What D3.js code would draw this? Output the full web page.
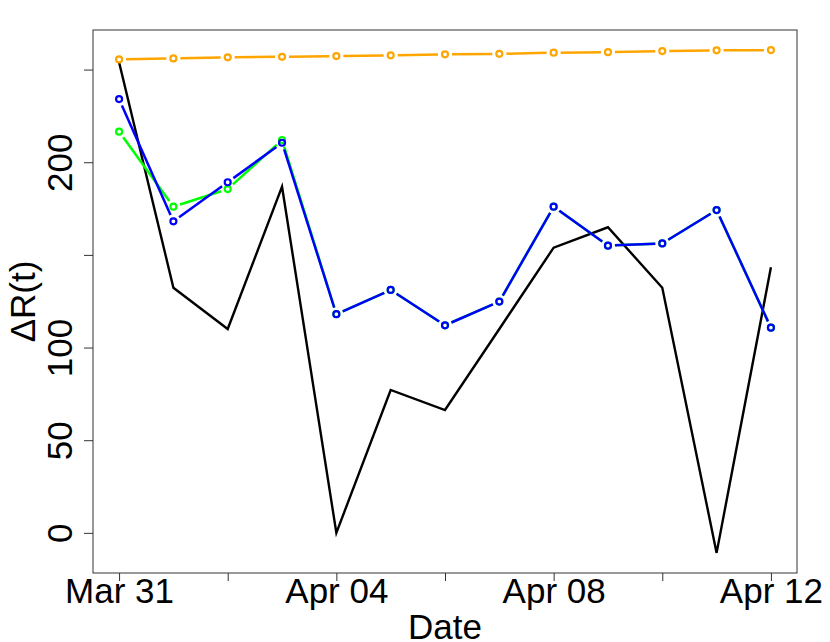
<!DOCTYPE html>
<html>
<head>
<meta charset="utf-8">
<script src="https://cdn.jsdelivr.net/npm/d3@7"></script>
<style>
  html, body { margin: 0; padding: 0; background: #fff; }
  svg { display: block; font-family: "Liberation Sans", Arial, Helvetica, sans-serif; }
</style>
</head>
<body>
<div id="chart"></div>
<script>
(function () {
  'use strict';

  // ---- data ----
  const DATES = [
    '2020-03-31', '2020-04-01', '2020-04-02', '2020-04-03', '2020-04-04',
    '2020-04-05', '2020-04-06', '2020-04-07', '2020-04-08', '2020-04-09',
    '2020-04-10', '2020-04-11', '2020-04-12'
  ];
  const OBSERVED = [254, 132.3, 110, 186.8, 0, 77.1, 66.3, 110, 153.9, 164.9, 132.3, -10.8, 143.3];
  const ORANGE = [255.5, 256.0, 256.6, 256.9, 257.3, 257.7, 258.2, 258.5, 259.1, 259.4, 260.0, 260.4, 260.5];
  const GREEN = [216.5, 176.0, 185.5, 212.0, 118.0, 131.1, 112.0, 124.8, 176.0, 155.0, 156.2, 174.2, 110.7];
  const BLUE = [234.1, 168.1, 189.2, 210.5, 118.0, 131.1, 112.0, 124.8, 176.0, 155.0, 156.2, 174.2, 110.7];
  const Y_TICKS = [0, 50, 100, 150, 200, 250];
  const Y_LABELS = [0, 50, 100, 200];
  const X_TICKS = ['2020-03-31', '2020-04-02', '2020-04-04', '2020-04-06', '2020-04-08', '2020-04-10', '2020-04-12'];
  const X_LABELS = ['2020-03-31', '2020-04-04', '2020-04-08', '2020-04-12'];

  const width = 830, height = 642;
  const box = { left: 93, right: 797, top: 30, bottom: 573 };

  const parse = d3.timeParse('%Y-%m-%d');
  const dates = DATES.map(parse);

  // R style 4% padding
  const xExt = d3.extent(dates);
  const xPad = (xExt[1] - xExt[0]) * 0.04;
  const x = d3.scaleTime()
    .domain([new Date(+xExt[0] - xPad), new Date(+xExt[1] + xPad)])
    .range([box.left, box.right]);

  const allY = OBSERVED.concat(ORANGE, GREEN, BLUE);
  const yExt = d3.extent(allY);
  const yPad = (yExt[1] - yExt[0]) * 0.04;
  const y = d3.scaleLinear()
    .domain([yExt[0] - yPad, yExt[1] + yPad])
    .range([box.bottom, box.top]);

  const svg = d3.select('#chart').append('svg')
    .attr('width', width)
    .attr('height', height);

  svg.append('rect').attr('width', width).attr('height', height).attr('fill', '#fff');

  // Axes
  const fmt = d3.timeFormat('%b %d');
  const key = d3.timeFormat('%Y-%m-%d');

  const xAxis = svg.append('g')
    .attr('transform', `translate(0,${box.bottom})`)
    .call(d3.axisBottom(x)
      .tickValues(X_TICKS.map(parse))
      .tickSize(8)
      .tickFormat(d => X_LABELS.includes(key(d)) ? fmt(d) : ''));
  xAxis.select('.domain').remove();
  xAxis.selectAll('.tick line').attr('stroke', '#333');
  xAxis.selectAll('.tick text')
    .attr('font-size', 35)
    .attr('fill', '#000')
    .attr('dy', null)
    .attr('y', 30);

  const yAxis = svg.append('g')
    .attr('transform', `translate(${box.left},0)`)
    .call(d3.axisLeft(y)
      .tickValues(Y_TICKS)
      .tickSize(9)
      .tickFormat(d => Y_LABELS.includes(d) ? d : ''));
  yAxis.select('.domain').remove();
  yAxis.selectAll('.tick line').attr('stroke', '#333');
  yAxis.selectAll('.tick text')
    .attr('font-size', 35)
    .attr('fill', '#000')
    .attr('x', null)
    .attr('dy', null)
    .attr('text-anchor', 'middle')
    .attr('transform', 'translate(-21,0) rotate(-90)');

  // Box
  svg.append('rect')
    .attr('x', box.left).attr('y', box.top)
    .attr('width', box.right - box.left).attr('height', box.bottom - box.top)
    .attr('fill', 'none').attr('stroke', '#333').attr('stroke-width', 1);

  // Axis titles
  svg.append('text')
    .attr('x', (box.left + box.right) / 2).attr('y', 639)
    .attr('text-anchor', 'middle').attr('font-size', 35)
    .text('Date');
  svg.append('text')
    .attr('transform', `translate(35,${(box.top + box.bottom) / 2}) rotate(-90)`)
    .attr('text-anchor', 'middle').attr('font-size', 35)
    .text('ΔR(t)');

  const plot = svg.append('g');

  // Plain line
  const line = d3.line().x((d, i) => x(dates[i])).y(d => y(d));
  plot.append('path')
    .datum(OBSERVED)
    .attr('d', line)
    .attr('fill', 'none')
    .attr('stroke', '#000')
    .attr('stroke-width', 2.4)
    .attr('stroke-linejoin', 'miter');

  // Lines with open circles and gaps (R type "b")
  function drawBoth(values, color) {
    const pts = values.map((v, i) => [x(dates[i]), y(v)]);
    const gap = 7;
    const g = plot.append('g');
    for (let i = 0; i < pts.length - 1; i++) {
      const [x0, y0] = pts[i], [x1, y1] = pts[i + 1];
      const len = Math.hypot(x1 - x0, y1 - y0);
      if (len <= 2 * gap) continue;
      const ux = (x1 - x0) / len, uy = (y1 - y0) / len;
      g.append('line')
        .attr('x1', x0 + ux * gap).attr('y1', y0 + uy * gap)
        .attr('x2', x1 - ux * gap).attr('y2', y1 - uy * gap)
        .attr('stroke', color).attr('stroke-width', 2.5);
    }
    g.selectAll('circle')
      .data(pts)
      .enter().append('circle')
      .attr('cx', d => d[0]).attr('cy', d => d[1])
      .attr('r', 3)
      .attr('fill', 'none')
      .attr('stroke', color)
      .attr('stroke-width', 2.2);
  }

  drawBoth(ORANGE, '#FFA500');
  drawBoth(GREEN, '#00FF00');
  drawBoth(BLUE, '#0000FF');
})();
</script>
</body>
</html>
